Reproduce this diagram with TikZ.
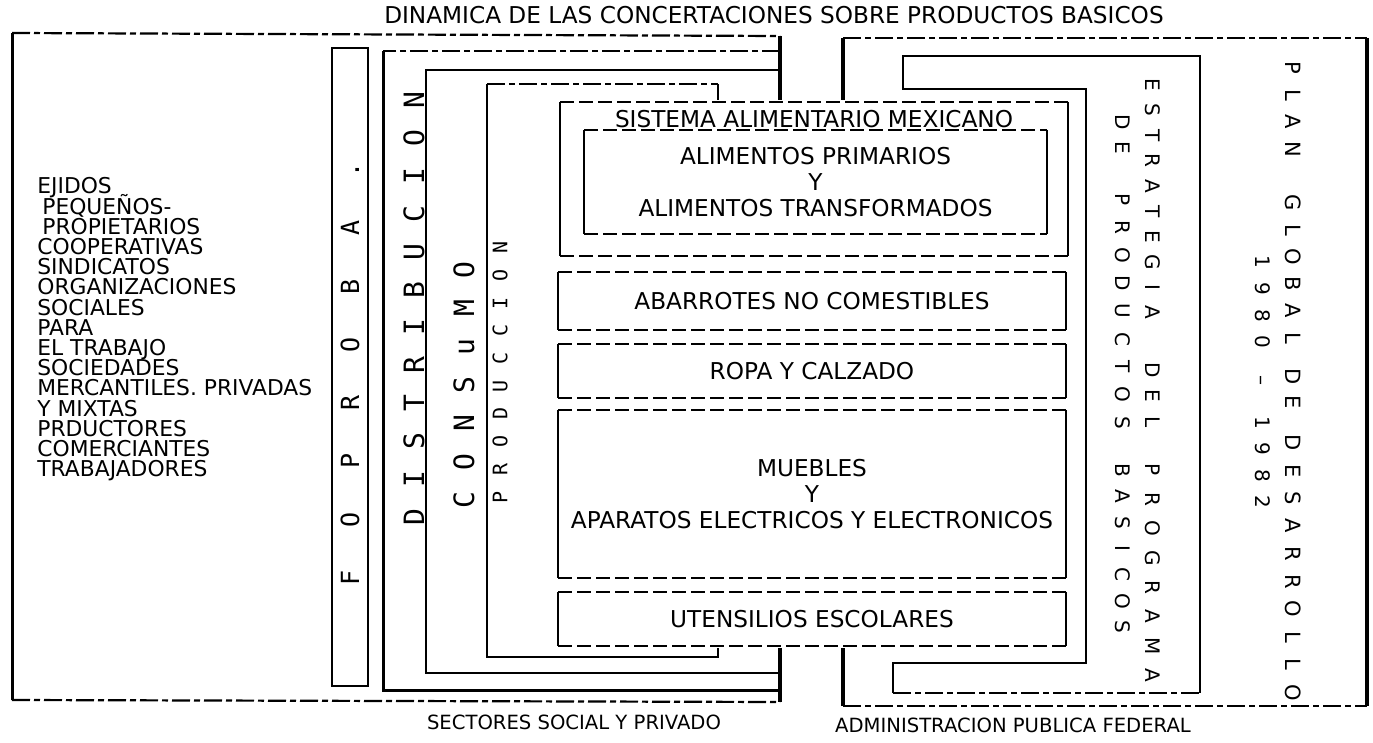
\documentclass[tikz,border=0pt]{standalone}
\usepackage{fontspec}
\setmainfont{DejaVu Sans}
\newfontfamily\typefont{DejaVu Sans Mono}
\usetikzlibrary{positioning}

\tikzset{
  frameline/.style={line width=1.5pt},
  heavyline/.style={line width=2.2pt},
  brokenline/.style={line width=1.1pt, dash pattern=on 9pt off 2pt on 3pt off 2pt},
  boxside/.style={line width=0.9pt},
  boxedge/.style={line width=0.8pt, dash pattern=on 7pt off 2.5pt},
  itembox/.style={inner sep=0pt, outer sep=0pt, fill=white, align=center, font=\fontsize{11.6}{12.8}\selectfont},
  itemtext/.style={inner sep=0pt, font=\fontsize{11.6}{12.8}\selectfont},
  captext/.style={inner sep=0pt, font=\fontsize{9.8}{11}\selectfont},
  listtext/.style={inner sep=0pt, anchor=base west, font=\fontsize{10.9}{11}\selectfont},
  upletter/.style={inner sep=0pt, rotate=90, text height={0.73*#1pt}, text depth=0pt, font=\typefont\fontsize{#1}{#1}\selectfont},
  downletter/.style={inner sep=0pt, rotate=-90, text height={0.73*#1pt}, text depth=0pt, font=\fontsize{#1}{#1}\selectfont},
}

% one spaced word, letter by letter
\newcommand{\letterrun}[6]{%
  \foreach \ch [count=\k from 0] in {#6}
    \node[#5] (#1-\k) at ({#2},{#3+(#4)*\k}) {\ch};%
}

\begin{document}
\begin{tikzpicture}[x=0.5pt,y=-0.5pt]
    \useasboundingbox (0,0) rectangle (1373,743);

    \node[itemtext, font=\fontsize{11.6}{13}\selectfont] (title) at (774,15) {DINAMICA DE LAS CONCERTACIONES SOBRE PRODUCTOS BASICOS};

    % sectores social y privado
    \draw[frameline] (12,33) -- (12,700);
    \draw[heavyline] (780,36) -- (780,702);
    \draw[brokenline] (12,33) -- (780,36);
    \draw[brokenline] (12,700) -- (780,702);

    \draw[line width=1.2pt] (332,48) rectangle (368,686);
    \draw[brokenline] (780,51) -- (383,51);
    \draw[frameline] (383,51) -- (383,690) -- (780,690);
    \draw[line width=1pt] (780,70) -- (426,70) -- (426,673) -- (780,673);
    \draw[brokenline] (487,84) -- (718,84);
    \draw[line width=1.3pt] (487,84) -- (487,657) -- (718,657) -- (718,84);

    \foreach \t [count=\k from 0] in {EJIDOS, \hspace*{2.5pt}PEQUEÑOS-, \hspace*{2.5pt}PROPIETARIOS,
        COOPERATIVAS, SINDICATOS, ORGANIZACIONES, SOCIALES, PARA, EL TRABAJO, SOCIEDADES,
        MERCANTILES. PRIVADAS, Y MIXTAS, PRDUCTORES, COMERCIANTES, TRABAJADORES}
        \node[listtext] (member-\k) at (37,{194+20.2*\k}) {\t};

    \letterrun{fop}{350}{578}{-58.3}{upletter=12.5}{F,O,P,R,O,B,A,.}
    \letterrun{dis}{414}{517}{-37.9}{upletter=14}{D,I,S,T,R,I,B,U,C,I,O,N}
    \letterrun{con}{464}{500}{-38.3}{upletter=14}{C,O,N,S,u,M,O}
    \letterrun{pro}{500}{497}{-27.7}{upletter=10}{P,R,O,D,U,C,C,I,O,N}

    % administracion publica federal
    \draw[heavyline] (843,38) -- (843,706);
    \draw[heavyline] (1367,38) -- (1367,706);
    \draw[brokenline] (843,38) -- (1367,38);
    \draw[brokenline] (843,706) -- (1367,706);

    \draw[line width=1.4pt] (893,693) -- (893,663) -- (1086,663) -- (1086,89) -- (903,89) -- (903,56) -- (1200,56) -- (1200,693);
    \draw[brokenline] (893,693) -- (1200,693);

    \letterrun{est}{1153}{85}{25.3}{downletter=10}{E,S,T,R,A,T,E,G,I,A}
    \letterrun{del}{1153}{370}{26}{downletter=10}{D,E,L}
    \letterrun{prg}{1153}{470}{29.3}{downletter=10}{P,R,O,G,R,A,M,A}
    \letterrun{de}{1123}{122}{26}{downletter=10}{D,E}
    \letterrun{prd}{1123}{200}{27.8}{downletter=10}{P,R,O,D,U,C,T,O,S}
    \letterrun{bas}{1123}{470}{26.2}{downletter=10}{B,A,S,I,C,O,S}

    \letterrun{plan}{1293}{68}{27}{downletter=10.5}{P,L,A,N}
    \letterrun{glob}{1293}{203}{27}{downletter=10.5}{G,L,O,B,A,L}
    \letterrun{pde}{1293}{377}{25}{downletter=10.5}{D,E}
    \letterrun{des}{1293}{443}{27.7}{downletter=10.5}{D,E,S,A,R,R,O,L,L,O}
    \letterrun{yra}{1263}{262}{26.7}{downletter=10}{1,9,8,0}
    \node[downletter=10] (yrdash) at (1263,381) {--};
    \letterrun{yrb}{1263}{423}{26.3}{downletter=10}{1,9,8,2}

    % productos basicos
    \fill[white] (556,100) rectangle (1070,648);
    \node[itembox, minimum width=254pt, minimum height=77pt] (sam) at (814,179) {};
    \node[itemtext, below=4pt of sam.north] (samtitle) {SISTEMA ALIMENTARIO MEXICANO};
    \node[itembox, minimum width=231.5pt, minimum height=52pt] (alim) at (815.5,182) {ALIMENTOS PRIMARIOS\\Y\\ALIMENTOS TRANSFORMADOS};
    \node[itembox, minimum width=254pt, minimum height=29pt] (abar) at (812,301) {ABARROTES NO COMESTIBLES};
    \node[itembox, minimum width=254pt, minimum height=27pt] (ropa) at (812,371) {ROPA Y CALZADO};
    \node[itembox, minimum width=254pt, minimum height=84pt] (mueb) at (812,494) {MUEBLES\\Y\\APARATOS ELECTRICOS Y ELECTRONICOS};
    \node[itembox, minimum width=254pt, minimum height=27pt] (uten) at (812,619) {UTENSILIOS ESCOLARES};
    \foreach \b in {sam,alim,abar,ropa,mueb,uten} {
        \draw[boxside] (\b.north west) -- (\b.south west);
        \draw[boxside] (\b.north east) -- (\b.south east);
        \draw[boxedge] (\b.north west) -- (\b.north east);
        \draw[boxedge] (\b.south west) -- (\b.south east);
    }

    \node[captext] (social) at (574,722) {SECTORES SOCIAL Y PRIVADO};
    \node[captext] (federal) at (1013,725) {ADMINISTRACION PUBLICA FEDERAL};
\end{tikzpicture}
\end{document}
